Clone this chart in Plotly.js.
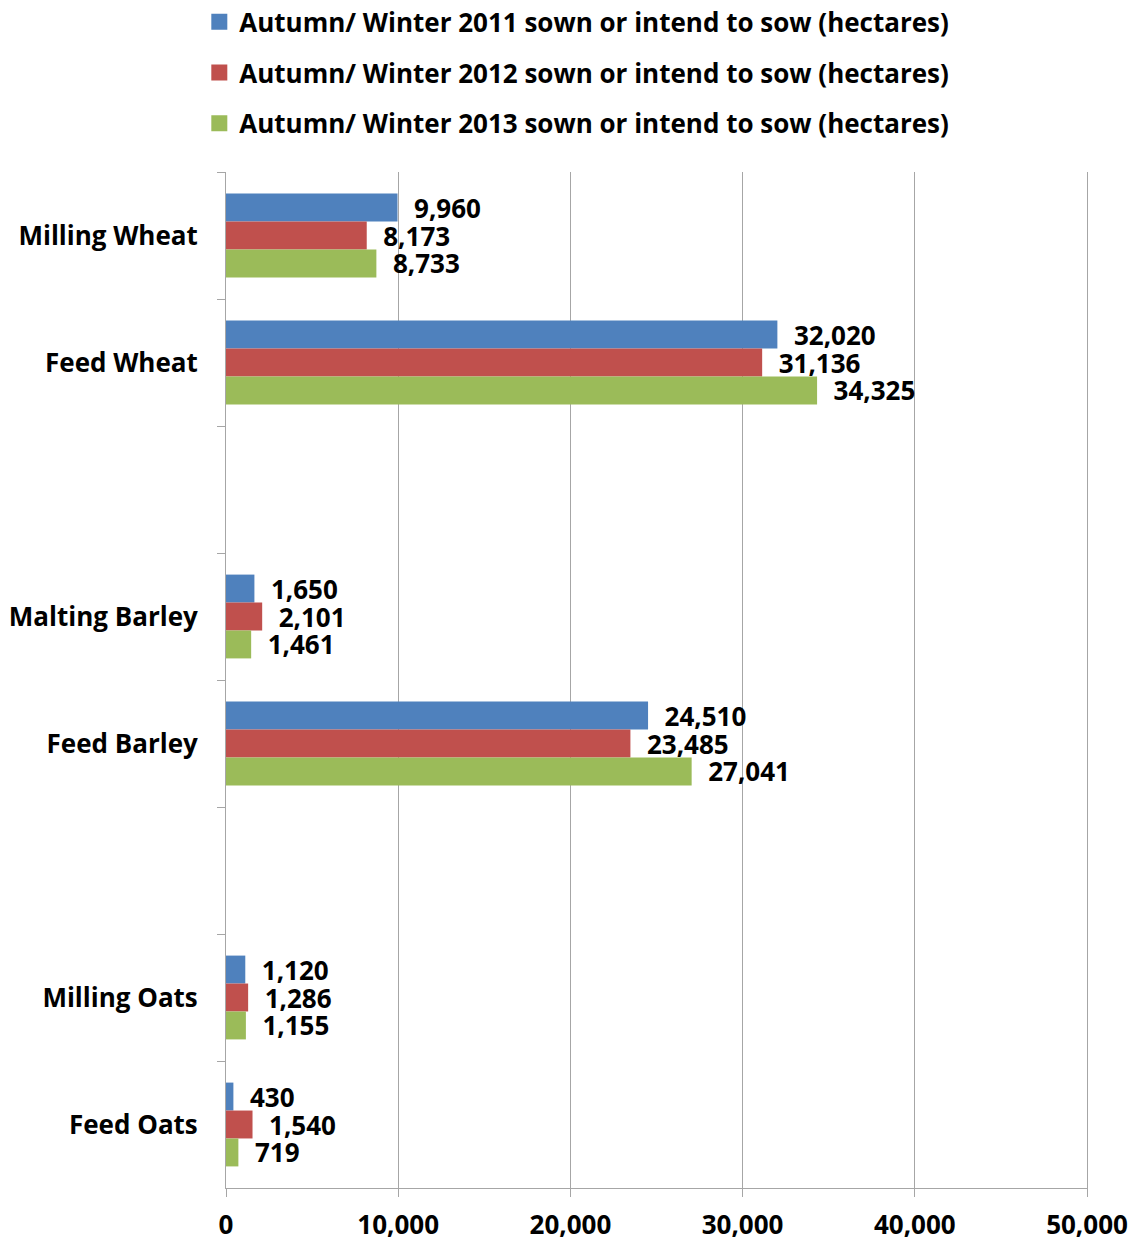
<!DOCTYPE html>
<html>
<head>
<meta charset="utf-8">
<script src="https://cdn.plot.ly/plotly-3.0.1.min.js"></script>
<style>html,body{margin:0;padding:0;background:#fff;}#chart{width:1138px;height:1242px;}</style>
</head>
<body>
<div id="chart"></div>
<script>
const categories = ["Milling Wheat", "Feed Wheat", " ", "Malting Barley", "Feed Barley", "  ", "Milling Oats", "Feed Oats"];
const seriesNames = [
  "Autumn/ Winter 2011 sown or intend to sow (hectares)",
  "Autumn/ Winter 2012 sown or intend to sow (hectares)",
  "Autumn/ Winter 2013 sown or intend to sow (hectares)"
];
const values2011 = [9960, 32020, null, 1650, 24510, null, 1120, 430];
const values2012 = [8173, 31136, null, 2101, 23485, null, 1286, 1540];
const values2013 = [8733, 34325, null, 1461, 27041, null, 1155, 719];
const colors = ["#4F81BD", "#C0504D", "#9BBB59"];
const xTickVals = [0, 10000, 20000, 30000, 40000, 50000];

const FONT = "'Open Sans', sans-serif";
const FS = 26;
const seriesValues = [values2011, values2012, values2013];
const barTraces = seriesValues.map((vals, i) => ({
  type: "bar",
  orientation: "h",
  name: seriesNames[i],
  showlegend: false,
  y: categories,
  x: vals,
  marker: {color: colors[i]},
  texttemplate: "\u00a0\u00a0%{x:,}",
  textposition: "outside",
  constraintext: "none",
  cliponaxis: false,
  textfont: {family: FONT, size: FS, color: "#000", weight: "bold"},
  hoverinfo: "skip"
}));
// legend-only entries with larger square keys
const legendTraces = seriesNames.map((nm, i) => ({
  type: "scatter",
  mode: "markers",
  name: nm,
  legendgroup: "g" + i,
  x: [null],
  y: [null],
  marker: {symbol: "square", size: 17, color: colors[i]},
  hoverinfo: "skip"
}));

const layout = {
  width: 1138,
  height: 1242,
  margin: {l: 226, r: 51, t: 172, b: 54, autoexpand: false},
  paper_bgcolor: "#fff",
  plot_bgcolor: "#fff",
  barmode: "group",
  bargap: 0.34,
  bargroupgap: 0,
  showlegend: true,
  legend: {
    orientation: "v",
    x: -0.031, xanchor: "left",
    y: 1.171, yanchor: "top",
    traceorder: "grouped",
    tracegroupgap: 14,
    font: {family: FONT, size: FS, color: "#000", weight: "bold"},
    bgcolor: "rgba(0,0,0,0)"
  },
  xaxis: {
    range: [0, 50000],
    tickvals: xTickVals,
    tickformat: ",",
    tickangle: 0,
    automargin: false,
    showgrid: true,
    gridcolor: "#a6a6a6",
    gridwidth: 1,
    zeroline: false,
    showline: true,
    linecolor: "#a6a6a6",
    ticks: "outside",
    ticklen: 8,
    tickcolor: "#a6a6a6",
    ticklabelstandoff: 6,
    tickfont: {family: FONT, size: FS, color: "#000", weight: "bold"}
  },
  yaxis: {
    type: "category",
    autorange: "reversed",
    automargin: false,
    categoryorder: "array",
    categoryarray: categories,
    showgrid: false,
    zeroline: false,
    showline: true,
    mirror: true,
    linecolor: "#a6a6a6",
    ticks: "outside",
    tickson: "boundaries",
    ticklen: 8,
    tickcolor: "#a6a6a6",
    ticklabelstandoff: 22,
    tickfont: {family: FONT, size: FS, color: "#000", weight: "bold"}
  }
};

Plotly.newPlot("chart", barTraces.concat(legendTraces), layout, {displayModeBar: false, staticPlot: true});
</script>
</body>
</html>
